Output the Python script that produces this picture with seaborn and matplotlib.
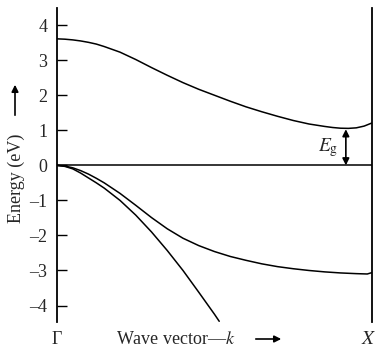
import numpy as np
import matplotlib
matplotlib.use("Agg")
import matplotlib.pyplot as plt
import seaborn as sns

# Band structure (k from Gamma=0 to X=1, energy in eV)
k_cond = [0.0, 0.025, 0.05, 0.075, 0.1, 0.125, 0.15, 0.2, 0.25, 0.3, 0.35, 0.4, 0.45, 0.5, 0.55,
          0.6, 0.65, 0.7, 0.75, 0.8, 0.85, 0.875, 0.9, 0.925, 0.95, 0.975, 1.0]
e_cond = [3.61, 3.60, 3.58, 3.55, 3.51, 3.46, 3.39, 3.23, 3.02, 2.79, 2.57, 2.36, 2.17, 2.00, 1.83,
          1.67, 1.53, 1.40, 1.28, 1.18, 1.11, 1.08, 1.06, 1.055, 1.07, 1.12, 1.21]

k_heavy = [0.0, 0.025, 0.05, 0.075, 0.1, 0.125, 0.15, 0.2, 0.25, 0.3, 0.35, 0.4, 0.45, 0.5, 0.55,
           0.6, 0.65, 0.7, 0.75, 0.8, 0.85, 0.9, 0.95, 0.985, 1.0]
e_heavy = [0.0, -0.02, -0.07, -0.15, -0.25, -0.37, -0.50, -0.80, -1.14, -1.49, -1.81, -2.08, -2.29, -2.46, -2.60,
           -2.71, -2.81, -2.89, -2.95, -3.00, -3.04, -3.07, -3.09, -3.10, -3.06]

k_light = [0.0, 0.025, 0.05, 0.075, 0.1, 0.125, 0.15, 0.2, 0.25, 0.3, 0.35, 0.4, 0.45, 0.5, 0.515]
e_light = [0.0, -0.03, -0.10, -0.22, -0.36, -0.50, -0.65, -1.00, -1.42, -1.90, -2.43, -3.00, -3.62, -4.25, -4.45]

e_gap = 1.05
y_ticks = [-4, -3, -2, -1, 0, 1, 2, 3, 4]

sns.set_style("white")
plt.rcParams['font.family'] = ['Liberation Serif', 'DejaVu Serif']
plt.rcParams['mathtext.fontset'] = 'stix'

fig = plt.figure(figsize=(3.77, 3.52), dpi=100)
ax = fig.add_axes([57 / 377, 1 - 322 / 352, 315 / 377, 314 / 352])

for k, e in [(k_cond, e_cond), (k_heavy, e_heavy), (k_light, e_light)]:
    sns.lineplot(x=k, y=e, color="black", linewidth=1.1, sort=False, ax=ax)
ax.axhline(0, color="black", linewidth=1.1)

ax.set_xlim(0, 1)
ax.set_ylim(-4.47, 4.49)

for side in ["top", "bottom"]:
    ax.spines[side].set_visible(False)
for side in ["left", "right"]:
    ax.spines[side].set_color("black")
    ax.spines[side].set_linewidth(1.3)

ax.set_yticks(y_ticks)
ax.set_yticklabels([str(v).replace("-", "\u2013") for v in y_ticks], fontsize=13)
ax.tick_params(axis="y", direction="in", length=7, width=1, color="black", pad=7, left=True)
ax.set_xticks([])

# band gap arrow
ax.annotate("", xy=(0.917, 0.0), xytext=(0.917, e_gap - 0.02),
            arrowprops=dict(arrowstyle="<|-|>", color="black", lw=1.2,
                            mutation_scale=10, shrinkA=0, shrinkB=0))
ax.text(0.893, 0.52, r"$E_{\rm g}$", fontsize=14, ha="right", va="center")

# axis titles with arrows
y_lab = 1 - 339 / 352
fig.text(57 / 377, y_lab, "\u0393", fontsize=13, ha="center", va="center")
fig.text(369 / 377, y_lab, "$X$", fontsize=14, ha="center", va="center")
fig.text(176 / 377, y_lab, "Wave vector\u2014$k$", fontsize=13, ha="center", va="center")
fig.add_artist(matplotlib.patches.FancyArrowPatch(
    (253 / 377, y_lab), (284 / 377, y_lab), transform=fig.transFigure,
    arrowstyle="-|>", mutation_scale=10, color="black", lw=1.2))
fig.text(16 / 377, 1 - 178 / 352, "Energy (eV)", fontsize=13, rotation=90, ha="center", va="center")
fig.add_artist(matplotlib.patches.FancyArrowPatch(
    (15 / 377, 1 - 118 / 352), (15 / 377, 1 - 82 / 352), transform=fig.transFigure,
    arrowstyle="-|>", mutation_scale=10, color="black", lw=1.2))

fig.savefig("out.png", dpi=100)
